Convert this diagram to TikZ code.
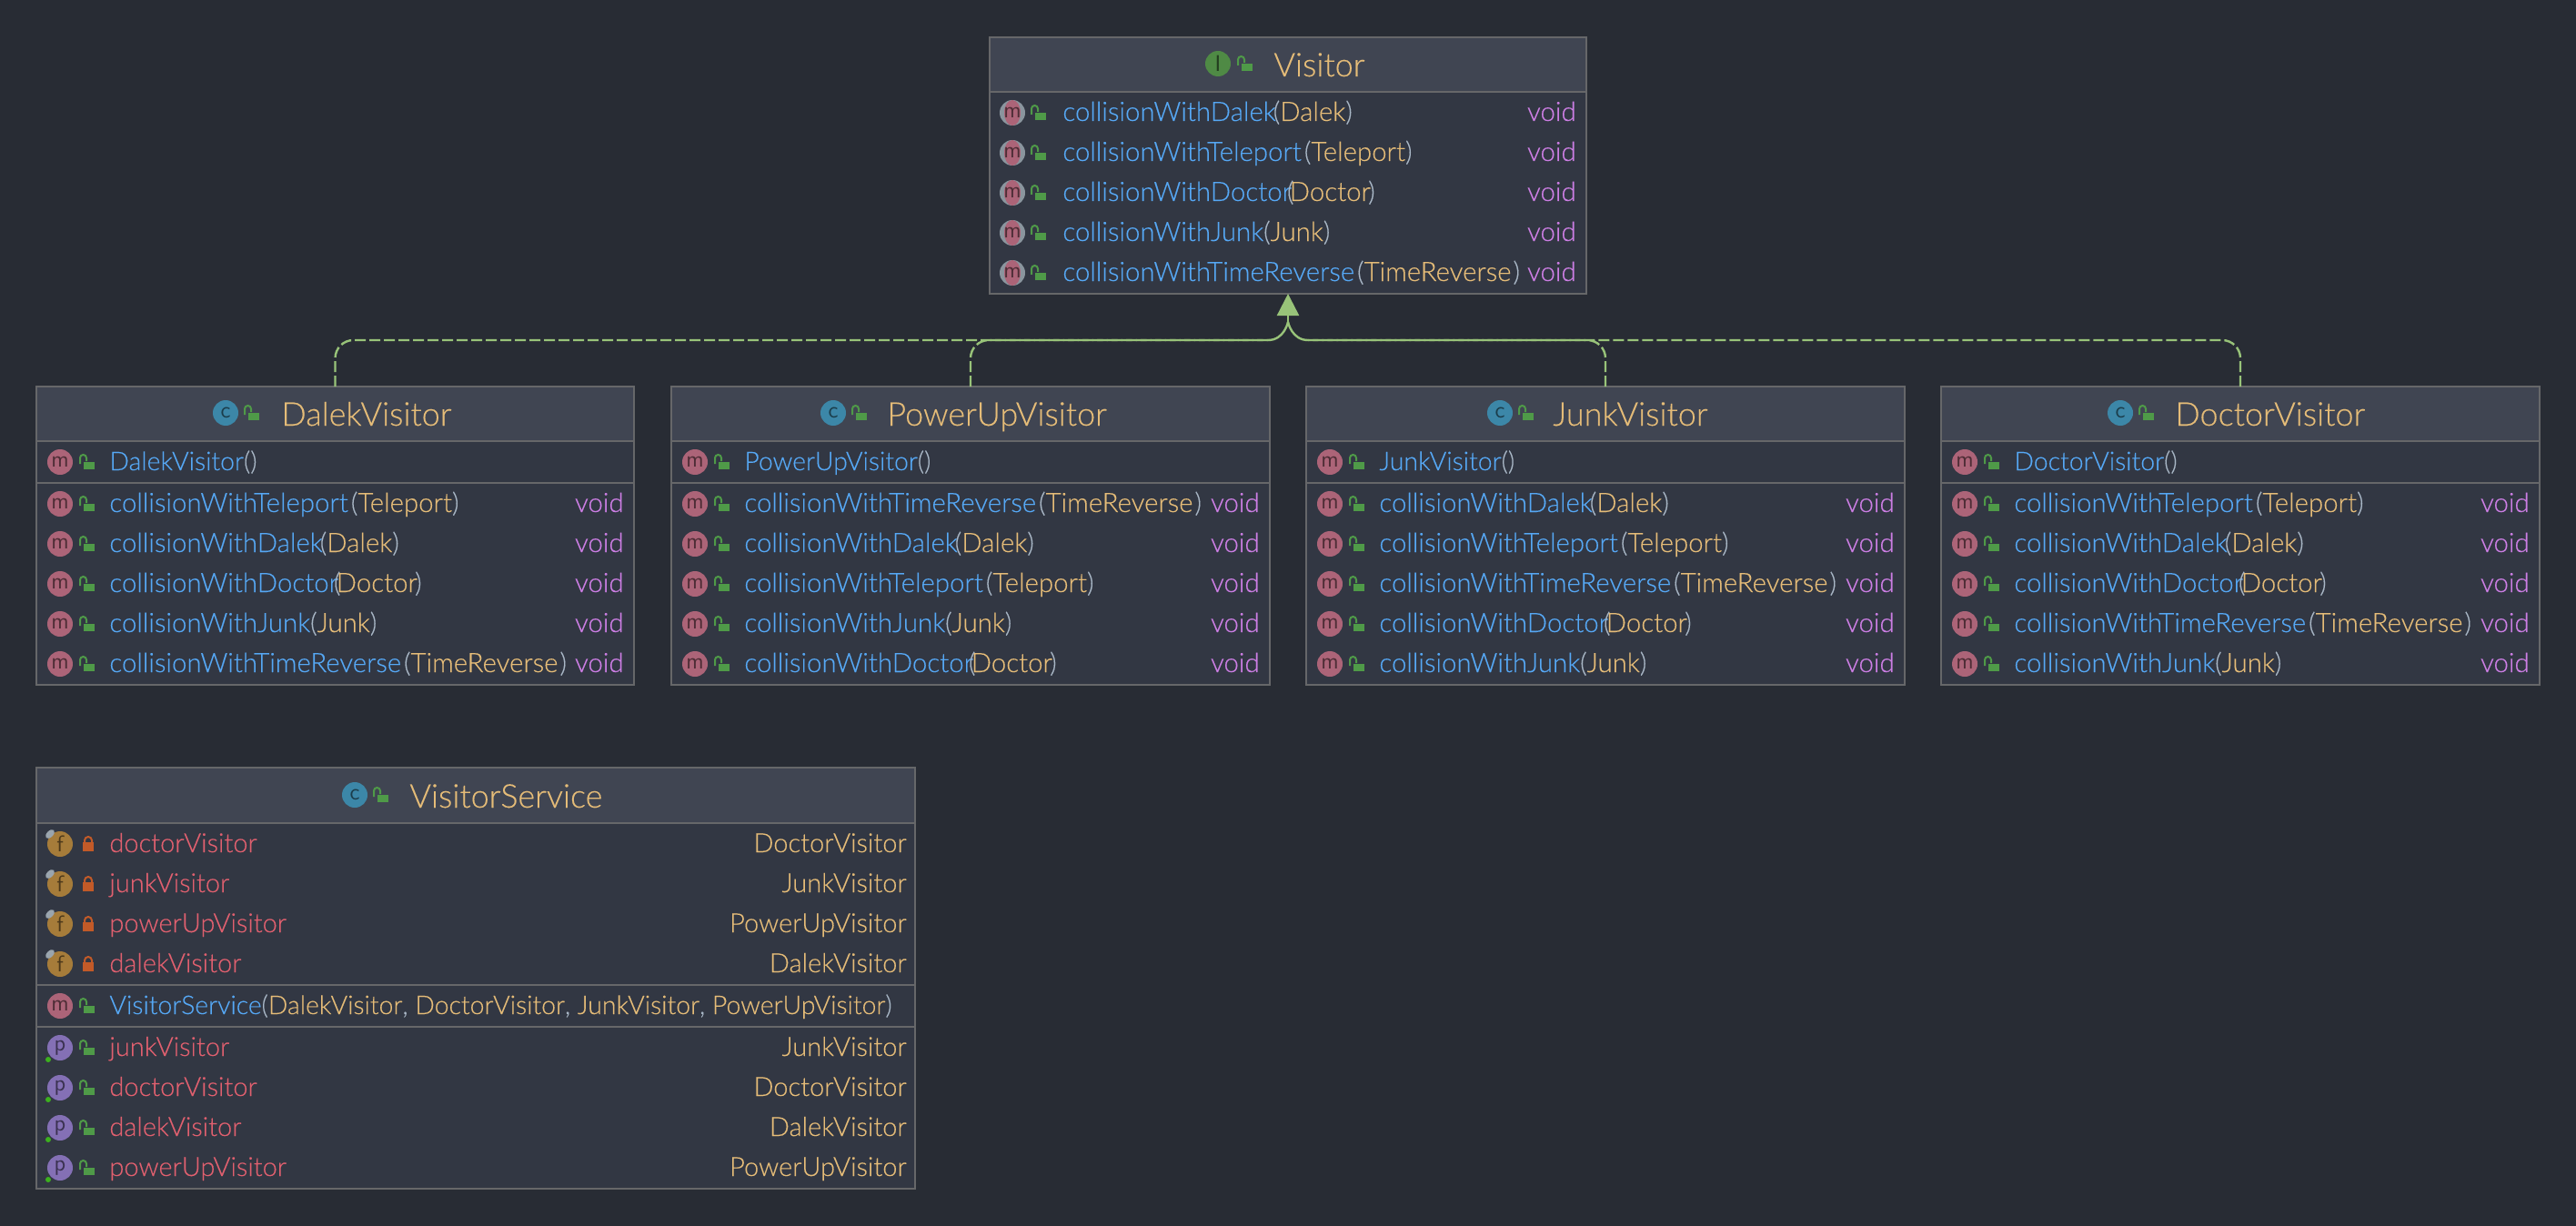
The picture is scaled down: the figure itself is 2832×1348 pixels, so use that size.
\documentclass[tikz,border=0pt]{standalone}
\usepackage{fontspec}
\setmainfont{Lato}[UprightFont=* Light,UprightFeatures={FakeBold=0.25}]
\usetikzlibrary{arrows.meta}
\definecolor{bgc}{HTML}{282C34}
\definecolor{headc}{HTML}{404552}
\definecolor{bodyc}{HTML}{323743}
\definecolor{edgec}{HTML}{666769}
\definecolor{namec}{HTML}{56A8F5}
\definecolor{typec}{HTML}{E5BC78}
\definecolor{voidc}{HTML}{CC7EE4}
\definecolor{fieldc}{HTML}{E0606F}
\definecolor{parenc}{HTML}{A9B7C6}
\definecolor{micon}{HTML}{AC6478}
\definecolor{ficon}{HTML}{A67C3A}
\definecolor{cicon}{HTML}{3C87A8}
\definecolor{iicon}{HTML}{4F8A45}
\definecolor{picon}{HTML}{8470B5}
\definecolor{lockg}{HTML}{4F9A48}
\definecolor{locko}{HTML}{C25A28}
\definecolor{depc}{HTML}{98C379}
\definecolor{pinc}{HTML}{9AA5AE}
\definecolor{dotc}{HTML}{3CB01E}
\newcount\itemno
\newcommand{\nextitem}{\global\advance\itemno by 1\relax}
\newcommand{\bodyfont}{\fontsize{14.7}{16}\selectfont}
\newcommand{\ctorfont}{\fontsize{14.2}{16}\selectfont}
\newcommand{\fieldfont}{\fontsize{14.5}{16}\selectfont}
\tikzset{
  x=0.5pt,y=-0.5pt,
  bodybox/.style={draw=edgec,line width=1pt,fill=bodyc,inner sep=0pt,outer sep=0pt,anchor=north west},
  headbox/.style={draw=edgec,line width=1pt,fill=headc,inner sep=0pt,outer sep=0pt,anchor=north west},
  sepline/.style={draw=edgec,line width=1pt},
  lefttext/.style={anchor=base west,inner sep=0pt,font=\bodyfont},
  ctortext/.style={anchor=base west,inner sep=0pt,font=\ctorfont},
  fieldtext/.style={anchor=base west,inner sep=0pt,font=\fieldfont,text=fieldc},
  righttext/.style={anchor=base east,inner sep=0pt,font=\bodyfont},
  typetext/.style={anchor=base east,inner sep=0pt,font=\fieldfont,text=typec},
  titletext/.style={anchor=base west,inner sep=0pt,text=typec,font=\fontsize{18}{20}\selectfont},
  iconball/.style={circle,inner sep=0pt,minimum size=14pt,font=\sffamily\fontsize{12.5}{12.5}\selectfont},
  dep/.style={draw=depc,line width=1.2pt,dash pattern=on 6pt off 2pt},
  depstem/.style={draw=depc,line width=1.2pt},
  deptip/.style={-{Triangle[length=12pt,width=12pt,fill=depc]}},
}
% open lock at centre (#1,#2); y axis points down, so the arc runs 180 to 360
\newcommand{\openlock}[2]{%
  \fill[lockg] (#1-5,#2) rectangle (#1+7,#2+8);
  \draw[lockg,line width=1pt] (#1-9,#2+2) -- (#1-9,#2-4.5) arc[start angle=180,end angle=360,radius=3.5] -- (#1-2,#2-1);}
\newcommand{\closedlock}[2]{%
  \fill[locko] (#1-6,#2-2) rectangle (#1+6,#2+8);
  \draw[locko,line width=1pt] (#1-4,#2-2) -- (#1-4,#2-4) arc[start angle=180,end angle=360,radius=4] -- (#1+4,#2-2);}
% icons: centre x, y
\newcommand{\icon}[4][]{\nextitem\node[iconball,fill=#2,text=#2!45!black] (ic\the\itemno) at (#3,#4) {#1};}
\newcommand{\mmark}[2]{\icon[m]{micon}{#1}{#2}}
\newcommand{\amark}[2]{\nextitem
  \node[iconball,fill=pinc!85!bodyc] (ica\the\itemno) at (#1,#2) {};
  \fill[micon] (#1,#2) ellipse[x radius=9,y radius=14];
  \nextitem\node[iconball,text=micon!45!black] (ic\the\itemno) at (#1,#2) {m};}
\newcommand{\fmark}[2]{\icon[f]{ficon}{#1}{#2}
  \fill[pinc,rotate around={45:(#1-11,#2-11)}] (#1-11,#2-11) ellipse[x radius=6,y radius=3.5];}
\newcommand{\pmark}[2]{\icon[p]{picon}{#1}{#2}
  \fill[dotc] (#1-13,#2+13) circle[radius=3];}
% text helpers
\newcommand{\pn}[1]{\textcolor{parenc}{#1}}
\newcommand{\nm}[1]{\textcolor{namec}{#1}}
\newcommand{\ty}[1]{\textcolor{typec}{#1}}
\newcommand{\mTeleport}{\nm{collisionWithTeleport}\kern1.5pt\pn{(}\ty{Teleport}\pn{)}}
\newcommand{\mDalek}{\nm{collisionWithDalek}\kern-1.5pt\pn{(}\ty{Dalek}\pn{)}}
\newcommand{\mDoctor}{\nm{collisionWithDoctor}\kern-2.5pt\pn{(}\kern-2.4pt\ty{Doctor}\kern-1.4pt\pn{)}}
\newcommand{\mJunk}{\nm{collisionWithJunk}\pn{(}\ty{Junk}\pn{)}}
\newcommand{\mTime}{\nm{collisionWithTimeReverse}\kern1.5pt\pn{(}\ty{TimeReverse}\kern1pt\pn{)}}
% rows
\newcommand{\rowtext}[4]{\nextitem
  \node[lefttext] (tl\the\itemno) at (#1+80,#3+9) {#4};
  \node[righttext] (tr\the\itemno) at (#2-11,#3+9) {\textcolor{voidc}{void}};}
\newcommand{\mrow}[4]{\mmark{#1+26}{#3}\openlock{#1+57}{#3}\rowtext{#1}{#2}{#3}{#4}}
\newcommand{\arow}[4]{\amark{#1+25}{#3}\openlock{#1+55}{#3}\rowtext{#1}{#2}{#3}{#4}}
\newcommand{\ctorrow}[3]{\mmark{#1+26}{#2}\openlock{#1+57}{#2}\nextitem
  \node[ctortext] (tl\the\itemno) at (#1+80,#2+9) {\nm{#3}\pn{()}};}
\newcommand{\frow}[3]{\fmark{#1+26}{#2}\closedlock{#1+57}{#2}\nextitem
  \node[fieldtext] (tl\the\itemno) at (#1+80,#2+9) {#3};}
\newcommand{\prow}[3]{\pmark{#1+26}{#2}\openlock{#1+57}{#2}\nextitem
  \node[fieldtext] (tl\the\itemno) at (#1+80,#2+9) {#3};}
\newcommand{\typeat}[3]{\nextitem\node[typetext] (tr\the\itemno) at (#1,#2+9) {#3};}
% class box: name, left, top, right, header bottom, bottom
\newcommand{\classbox}[6]{%
  \node[bodybox,minimum width={(#4-#2)*0.5pt},minimum height={(#6-#3)*0.5pt}] (#1) at (#2,#3) {};
  \node[headbox,minimum width={(#4-#2)*0.5pt},minimum height={(#5-#3)*0.5pt}] (#1Head) at (#2,#3) {};}
\begin{document}
\begin{tikzpicture}
\useasboundingbox[fill=bgc] (0,0) rectangle (2832,1348);

% ---------- Visitor
\classbox{visitor}{1088}{41}{1744}{101}{323}
\icon[\textsf{I}]{iicon}{1339}{70}\openlock{1370}{70}
\node[titletext] (visitorTitle) at (1400,84) {Visitor};
\arow{1088}{1744}{124}{\mDalek}
\arow{1088}{1744}{168}{\mTeleport}
\arow{1088}{1744}{212}{\mDoctor}
\arow{1088}{1744}{256}{\mJunk}
\arow{1088}{1744}{300}{\mTime}

% ---------- DalekVisitor
\classbox{dalek}{40}{425}{697}{485}{753}
\icon[c]{cicon}{248}{454}\openlock{278}{454}
\node[titletext] (dalekTitle) at (309,468) {DalekVisitor};
\ctorrow{40}{508}{DalekVisitor}
\draw[sepline] (dalek.west |- 0,531) -- (dalek.east |- 0,531);
\mrow{40}{697}{554}{\mTeleport}
\mrow{40}{697}{598}{\mDalek}
\mrow{40}{697}{642}{\mDoctor}
\mrow{40}{697}{686}{\mJunk}
\mrow{40}{697}{730}{\mTime}

% ---------- PowerUpVisitor
\classbox{powerup}{738}{425}{1396}{485}{753}
\icon[c]{cicon}{916}{454}\openlock{946}{454}
\node[titletext] (powerupTitle) at (975,468) {PowerUpVisitor};
\ctorrow{738}{508}{PowerUpVisitor}
\draw[sepline] (powerup.west |- 0,531) -- (powerup.east |- 0,531);
\mrow{738}{1396}{554}{\mTime}
\mrow{738}{1396}{598}{\mDalek}
\mrow{738}{1396}{642}{\mTeleport}
\mrow{738}{1396}{686}{\mJunk}
\mrow{738}{1396}{730}{\mDoctor}

% ---------- JunkVisitor
\classbox{junk}{1436}{425}{2094}{485}{753}
\icon[c]{cicon}{1649}{454}\openlock{1679}{454}
\node[titletext] (junkTitle) at (1707,468) {JunkVisitor};
\ctorrow{1436}{508}{JunkVisitor}
\draw[sepline] (junk.west |- 0,531) -- (junk.east |- 0,531);
\mrow{1436}{2094}{554}{\mDalek}
\mrow{1436}{2094}{598}{\mTeleport}
\mrow{1436}{2094}{642}{\mTime}
\mrow{1436}{2094}{686}{\mDoctor}
\mrow{1436}{2094}{730}{\mJunk}

% ---------- DoctorVisitor
\classbox{doctor}{2134}{425}{2792}{485}{753}
\icon[c]{cicon}{2331}{454}\openlock{2361}{454}
\node[titletext] (doctorTitle) at (2391,468) {DoctorVisitor};
\ctorrow{2134}{508}{DoctorVisitor}
\draw[sepline] (doctor.west |- 0,531) -- (doctor.east |- 0,531);
\mrow{2134}{2792}{554}{\mTeleport}
\mrow{2134}{2792}{598}{\mDalek}
\mrow{2134}{2792}{642}{\mDoctor}
\mrow{2134}{2792}{686}{\mTime}
\mrow{2134}{2792}{730}{\mJunk}

% ---------- VisitorService
\classbox{service}{40}{844}{1006}{905}{1307}
\icon[c]{cicon}{390}{874}\openlock{420}{874}
\node[titletext] (serviceTitle) at (450,888) {VisitorService};
\frow{40}{928}{doctorVisitor}\typeat{997}{928}{DoctorVisitor}
\frow{40}{972}{junkVisitor}\typeat{997}{972}{JunkVisitor}
\frow{40}{1016}{powerUpVisitor}\typeat{997}{1016}{PowerUpVisitor}
\frow{40}{1060}{dalekVisitor}\typeat{997}{1060}{DalekVisitor}
\draw[sepline] (service.west |- 0,1083) -- (service.east |- 0,1083);
\mmark{66}{1106}\openlock{97}{1106}
\node[ctortext] (serviceCtor) at (120,1115) {\nm{VisitorService}\pn{(}\ty{DalekVisitor}\pn{,} \ty{DoctorVisitor}\pn{,} \ty{JunkVisitor}\pn{,} \ty{PowerUpVisitor}\pn{)}};
\draw[sepline] (service.west |- 0,1129) -- (service.east |- 0,1129);
\prow{40}{1152}{junkVisitor}\typeat{997}{1152}{JunkVisitor}
\prow{40}{1196}{doctorVisitor}\typeat{997}{1196}{DoctorVisitor}
\prow{40}{1240}{dalekVisitor}\typeat{997}{1240}{DalekVisitor}
\prow{40}{1284}{powerUpVisitor}\typeat{997}{1284}{PowerUpVisitor}

% ---------- connectors
\coordinate (hubTop) at (1416,354);
\coordinate (hubL) at (1394,374);
\coordinate (hubR) at (1438,374);
\coordinate (hubCL) at (1412,374);
\coordinate (hubCR) at (1420,374);
\draw[dep,rounded corners=10pt] (dalek.north) |- (hubL);
\draw[dep,rounded corners=10pt] (powerup.north) |- (hubL);
\draw[dep,rounded corners=10pt] (junk.north) |- (hubR);
\draw[dep,rounded corners=10pt] (doctor.north) |- (hubR);
\draw[depstem] (hubL) .. controls (hubCL) and (hubTop) .. (hubTop);
\draw[depstem] (hubR) .. controls (hubCR) and (hubTop) .. (hubTop);
\draw[depstem,deptip] (hubTop) -- (visitor.south);
\end{tikzpicture}
\end{document}
